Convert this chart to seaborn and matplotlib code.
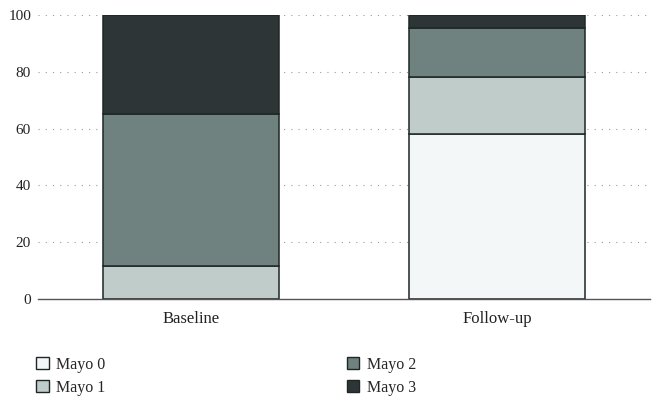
import matplotlib
matplotlib.use("Agg")
import matplotlib.pyplot as plt
import seaborn as sns
import numpy as np
from matplotlib.patches import Patch

categories = ["Baseline", "Follow-up"]
series_names = ["Mayo 0", "Mayo 1", "Mayo 2", "Mayo 3"]
mayo0 = [0.0, 58.0]
mayo1 = [11.5, 20.3]
mayo2 = [53.5, 17.3]
mayo3 = [35.0, 4.4]
yticks = [0, 20, 40, 60, 80, 100]

colors = ["#f4f7f7", "#c0ccc9", "#70827f", "#2d3536"]
edge = "#1e2626"

sns.set_theme(style="white")
plt.rcParams["font.family"] = ["Liberation Serif", "DejaVu Serif"]

fig = plt.figure(figsize=(6.6, 4.09), dpi=100)
ax = fig.add_axes([0.0576, 0.269, 0.927, 0.694])

bottom = np.zeros(len(categories))
for name, vals, col in zip(series_names, [mayo0, mayo1, mayo2, mayo3], colors):
    sns.barplot(x=categories, y=vals, bottom=bottom, color=col, edgecolor=edge,
                linewidth=1.1, width=0.577, ax=ax, saturation=1)
    bottom = bottom + np.array(vals)

ax.set_xlim(-0.5, 1.5)
ax.set_ylim(0, 100)
ax.set_yticks(yticks)
ax.set_yticklabels([str(t) for t in yticks])
ax.yaxis.grid(True, linestyle=(0, (1, 5.5)), color="#9a9a9a", linewidth=0.8)
ax.set_axisbelow(True)
for s in ["left", "right", "top"]:
    ax.spines[s].set_visible(False)
ax.spines["bottom"].set_color("#555555")
ax.spines["bottom"].set_linewidth(1.0)
ax.tick_params(axis="y", length=0, labelsize=11, colors="#222222", pad=5)
ax.tick_params(axis="x", length=0, labelsize=12, colors="#222222", pad=9)

handles = [Patch(facecolor=c, edgecolor=edge, linewidth=1.0) for c in colors]
fig.legend(handles, series_names, ncol=2, loc="upper left",
           bbox_to_anchor=(0.055, 0.128), frameon=False, fontsize=11.5,
           handlelength=0.8, handleheight=0.8, handletextpad=0.45,
           columnspacing=15.1, labelspacing=0.45, borderaxespad=0,
           borderpad=0)

fig.savefig("out.png", dpi=100)
